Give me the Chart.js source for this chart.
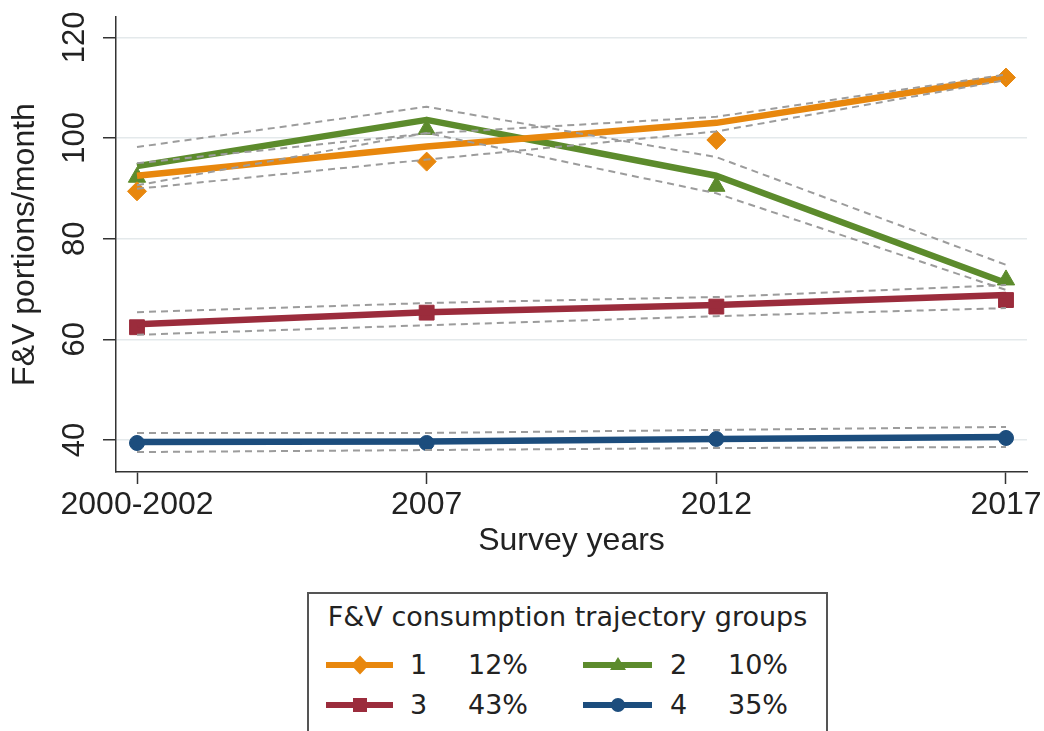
<!DOCTYPE html>
<html><head><meta charset="utf-8">
<script src="https://cdn.jsdelivr.net/npm/chart.js@4.4.0/dist/chart.umd.min.js"></script>
<style>
html,body{margin:0;padding:0;background:#fff;}
#wrap{position:relative;width:1044px;height:731px;overflow:hidden;background:#fff;}
#c{position:absolute;left:0;top:0;}
#lgbox{position:absolute;left:307px;top:592px;width:521px;height:170px;border:2px solid #555;box-sizing:border-box;}
.lt{position:absolute;font-family:"DejaVu Sans";font-size:27px;line-height:30px;color:#222;white-space:nowrap;}
.ll{position:absolute;height:6px;}
svg.mk{position:absolute;overflow:visible;}
</style>
</head><body>
<div id="wrap">
<canvas id="c" width="1044" height="580"></canvas>
<div id="lgbox"></div>
</div>
<script>
// ---- data ----
const categories = ['2000-2002', '2007', '2012', '2017'];
const yTickValues = [40, 60, 80, 100, 120];
const legendTitle = 'F&V consumption trajectory groups';
const groupLabels = ['1', '2', '3', '4'];
const groupShares = ['12%', '10%', '43%', '35%'];
const groupColors = ['#E8870D', '#5C8B2C', '#9B2C3C', '#1C4D7D'];
const groupMarkers = ['rectRot', 'triangle', 'rect', 'circle'];

// fitted trajectories
const fitted1 = [92.5, 98.3, 103.0, 112.0];
const fitted2 = [94.4, 103.6, 92.5, 71.2];
const fitted3 = [63.0, 65.4, 66.8, 68.8];
const fitted4 = [39.6, 39.7, 40.2, 40.6];
// observed means
const observed1 = [89.4, 95.3, 99.6, 112.0];
const observed2 = [92.2, 101.7, 90.4, 71.8];
const observed3 = [62.4, 65.3, 66.5, 67.8];
const observed4 = [39.4, 39.4, 40.2, 40.4];
// confidence bands
const upper1 = [95.0, 100.9, 104.2, 112.6];
const lower1 = [89.9, 95.7, 101.3, 111.5];
const upper2 = [98.2, 106.2, 96.2, 74.8];
const lower2 = [90.6, 101.0, 89.0, 69.8];
const upper3 = [65.4, 67.2, 68.4, 70.8];
const lower3 = [60.9, 62.8, 64.6, 66.2];
const upper4 = [41.4, 41.4, 42.0, 42.6];
const lower4 = [37.6, 38.0, 38.4, 38.6];

const fitted = [fitted1, fitted2, fitted3, fitted4];
const observed = [observed1, observed2, observed3, observed4];
const uppers = [upper1, upper2, upper3, upper4];
const lowers = [lower1, lower2, lower3, lower4];

const toPts = arr => arr.map((v, i) => ({x: i, y: v}));
const markerRadius = {rectRot: 9.5, triangle: 10, rect: 10.5, circle: 7.5};

const datasets = [];
// CI dashed lines (drawn on top)
for (let g = 0; g < 4; g++) {
  [uppers[g], lowers[g]].forEach(arr => datasets.push({
    data: toPts(arr), borderColor: '#9c9c9c', borderWidth: 2, borderDash: [7, 5],
    pointRadius: 0, fill: false, tension: 0, order: 0
  }));
}
// fitted lines
for (let g = 0; g < 4; g++) {
  datasets.push({
    data: toPts(fitted[g]), borderColor: groupColors[g], borderWidth: 6.5,
    pointRadius: 0, fill: false, tension: 0, order: 1, borderCapStyle: 'butt', borderJoinStyle: 'round'
  });
}
// observed markers
for (let g = 0; g < 4; g++) {
  datasets.push({
    data: toPts(observed[g]), showLine: false, pointStyle: groupMarkers[g],
    pointRadius: markerRadius[groupMarkers[g]], pointBackgroundColor: groupColors[g],
    pointBorderColor: groupColors[g], pointBorderWidth: 1, order: 2
  });
}

new Chart(document.getElementById('c'), {
  type: 'line',
  data: {datasets},
  options: {
    responsive: false, animation: false,
    layout: {padding: {top: 17, right: 17, left: 0, bottom: 0}},
    plugins: {legend: {display: false}, tooltip: {enabled: false}},
    scales: {
      x: {
        type: 'linear', min: -0.0725, max: 3.0725,
        afterBuildTicks: s => { s.ticks = categories.map((c, i) => ({value: i})); },
        afterFit: s => { s.height = 108; s.paddingLeft = 0; s.paddingRight = 0; },
        ticks: {callback: v => categories[v], font: {family: 'Liberation Sans', size: 32}, color: '#222', padding: 2, maxRotation: 0, minRotation: 0, autoSkip: false},
        grid: {drawOnChartArea: false, tickLength: 12, tickColor: '#333', tickWidth: 1.5},
        border: {color: '#333', width: 1.5},
        title: {display: true, text: 'Survey years', font: {family: 'Liberation Sans', size: 32, lineHeight: 1.2}, color: '#222', padding: {top: 0, bottom: 20}}
      },
      y: {
        type: 'linear', min: 33.64, max: 124.03,
        afterBuildTicks: s => { s.ticks = yTickValues.map(v => ({value: v})); },
        afterFit: s => { s.width = 116; s.paddingTop = 0; s.paddingBottom = 0; },
        ticks: {minRotation: 90, maxRotation: 90, crossAlign: 'center', padding: 2, font: {family: 'Liberation Sans', size: 31, lineHeight: 0.8}, color: '#222'},
        grid: {color: '#e4e9eb', lineWidth: 1.5, tickLength: 13, tickColor: '#333', tickWidth: 1.5},
        border: {color: '#333', width: 1.5},
        title: {display: true, text: 'F&V portions/month', font: {family: 'Liberation Sans', size: 32, lineHeight: 1.2}, color: '#222', padding: {top: 6, bottom: 0}}
      }
    }
  }
});

// ---- legend (HTML) ----
const wrap = document.getElementById('wrap');
function addText(txt, left, cy, extra) {
  const d = document.createElement('div');
  d.className = 'lt'; d.textContent = txt;
  d.style.left = left + 'px'; d.style.top = (cy - 15) + 'px';
  if (extra) Object.assign(d.style, extra);
  wrap.appendChild(d); return d;
}
addText(legendTitle, 307, 617, {width: '521px', textAlign: 'center'});
const colLine = [[326, 393], [583, 652]];
const colNum = [410, 670];
const colPct = [468, 728];
const rowY = [665, 705];
function markerSvg(type, color, cx, cy) {
  const ns = 'http://www.w3.org/2000/svg';
  const svg = document.createElementNS(ns, 'svg');
  svg.setAttribute('class', 'mk');
  svg.setAttribute('width', 24); svg.setAttribute('height', 24);
  svg.style.left = (cx - 12) + 'px'; svg.style.top = (cy - 12) + 'px';
  let el;
  if (type === 'rectRot') { el = document.createElementNS(ns, 'polygon'); el.setAttribute('points', '12,2.5 21,12 12,21.5 3,12'); }
  else if (type === 'triangle') { el = document.createElementNS(ns, 'polygon'); el.setAttribute('points', '12,4 20,17 4,17'); }
  else if (type === 'rect') { el = document.createElementNS(ns, 'rect'); el.setAttribute('x', 5); el.setAttribute('y', 5); el.setAttribute('width', 14); el.setAttribute('height', 14); }
  else { el = document.createElementNS(ns, 'circle'); el.setAttribute('cx', 12); el.setAttribute('cy', 12); el.setAttribute('r', 7); }
  el.setAttribute('fill', color);
  svg.appendChild(el);
  return svg;
}
for (let g = 0; g < 4; g++) {
  const col = g % 2, row = Math.floor(g / 2);
  const y = rowY[row];
  const ln = document.createElement('div');
  ln.className = 'll';
  ln.style.left = colLine[col][0] + 'px';
  ln.style.width = (colLine[col][1] - colLine[col][0]) + 'px';
  ln.style.top = (y - 3) + 'px';
  ln.style.background = groupColors[g];
  wrap.appendChild(ln);
  wrap.appendChild(markerSvg(groupMarkers[g], groupColors[g], (colLine[col][0] + colLine[col][1]) / 2, y));
  addText(groupLabels[g], colNum[col], y);
  addText(groupShares[g], colPct[col], y);
}
</script>
</body></html>
